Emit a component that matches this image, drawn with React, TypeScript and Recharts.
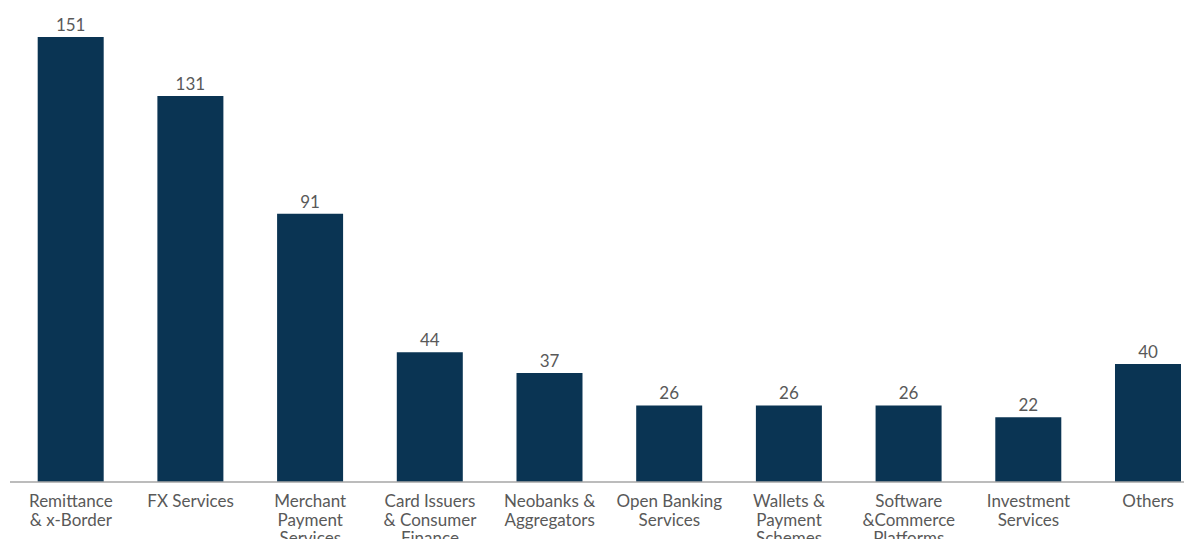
import { BarChart, Bar, XAxis, YAxis, LabelList } from 'recharts';

const categories = [
  'Remittance\n& x-Border',
  'FX Services',
  'Merchant\nPayment\nServices',
  'Card Issuers\n& Consumer\nFinance',
  'Neobanks &\nAggregators',
  'Open Banking\nServices',
  'Wallets &\nPayment\nSchemes',
  'Software\n&Commerce\nPlatforms',
  'Investment\nServices',
  'Others',
];
const counts = [151, 131, 91, 44, 37, 26, 26, 26, 22, 40];

const data = categories.map((name, i) => ({ name, count: counts[i] }));

const textColor = '#595959';
const barColor = '#0a3453';
const font = 'Lato, "Open Sans", sans-serif';

function WrappedTick({ x, y, payload }: any) {
  const lines = String(payload.value).split('\n');
  return (
    <text x={x} y={y} textAnchor="middle" fill={textColor} fontSize={17} fontFamily={font}>
      {lines.map((line, i) => (
        <tspan key={i} x={x} dy={i === 0 ? 23 : 18.5}>
          {line}
        </tspan>
      ))}
    </text>
  );
}

export default function App() {
  return (
    <div style={{ width: 1186, height: 531, overflow: 'hidden' }}>
      <BarChart
        width={1186}
        height={531}
        data={data}
        margin={{ top: 29, right: 10, bottom: 0, left: 2 }}
        barCategoryGap="22.3%"
      >
        <XAxis
          dataKey="name"
          interval={0}
          height={57}
          tickLine={false}
          tickSize={0}
          tick={<WrappedTick />}
          axisLine={{ stroke: '#a6a6a6', strokeWidth: 1.5 }}
          padding={{ left: 1, right: -24 }}
        />
        <YAxis hide domain={[0, 151]} />
        <Bar dataKey="count" fill={barColor} isAnimationActive={false}>
          <LabelList
            dataKey="count"
            position="top"
            offset={6}
            style={{ fontSize: 17, fill: textColor, fontFamily: font }}
          />
        </Bar>
      </BarChart>
    </div>
  );
}
